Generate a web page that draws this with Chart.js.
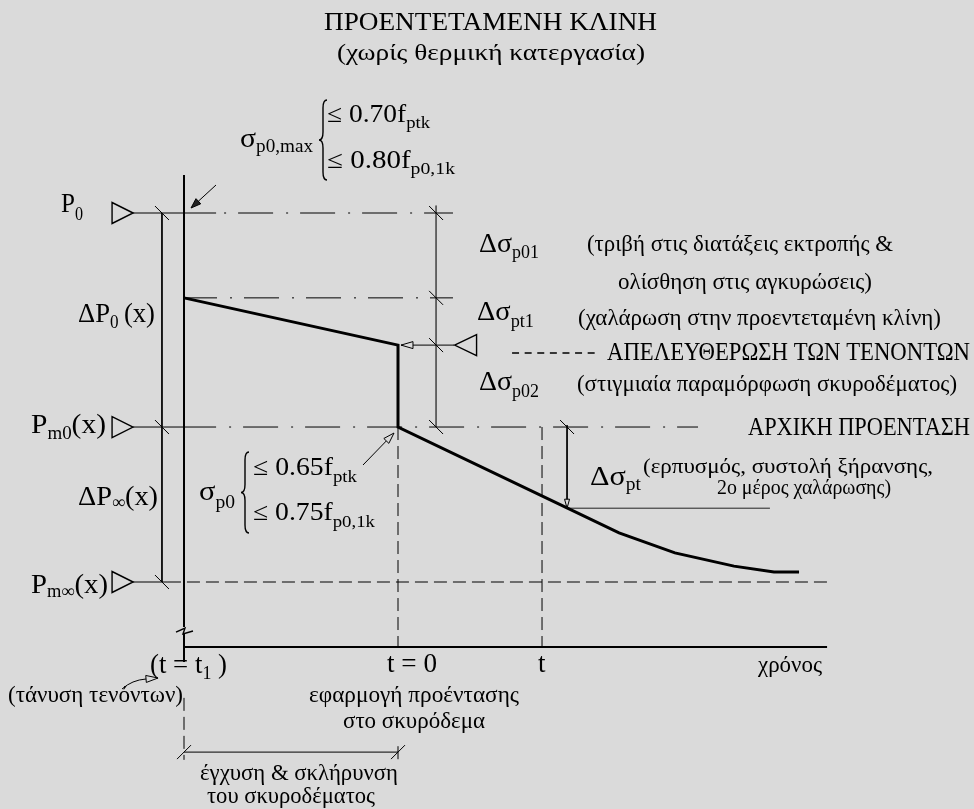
<!DOCTYPE html>
<html lang="el">
<head>
<meta charset="utf-8">
<title>Προεντεταμένη κλίνη</title>
<script src="https://cdn.jsdelivr.net/npm/chart.js@4.4.1/dist/chart.umd.min.js"></script>
<style>
  html, body { margin: 0; padding: 0; background: #dadada; }
  canvas { display: block; }
</style>
</head>
<body>
<canvas id="chart" width="974" height="809"></canvas>
<script>
// --- Δεδομένα: χρόνος (αυθαίρετες μονάδες) και τάση στον τένοντα ---
// t = t1 -> -10, t = 0 -> 0, Pm∞ -> 0, P0 -> 100
const curveTime   = [-10, 0, 0, 7.92, 10.33, 12.94, 15.7, 17.57, 18.74];
const curveStress = [77, 64.2, 42, 20, 13.3, 7.9, 4.3, 2.7, 2.7];
const timeMarks   = [-10, 0, 6.73, 20.05];       // t1, t = 0, t, τέλος άξονα
const levelValues = [100, 77, 64.2, 42, 0];      // P0, P0-Δσp01, απελευθέρωση, Pm0, Pm∞
const creepLevel  = 20;                          // Δσpt μετριέται ως εδώ

const [T1, T0, T, T_END] = timeMarks;
const [P0, P1, PR, PM0, PMI] = levelValues;

// --- Βαθμονόμηση κλιμάκων (ολόκληρος ο καμβάς είναι η περιοχή σχεδίασης) ---
const PX_PER_T = 21.4, PX_PER_S = 3.69, T0_PX = 398, S0_PX = 582;
const X_MIN = -T0_PX / PX_PER_T, X_MAX = (974 - T0_PX) / PX_PER_T;
const Y_MIN = (S0_PX - 809) / PX_PER_S, Y_MAX = S0_PX / PX_PER_S;

// θέσεις βοηθητικών γραμμών (μονάδες δεδομένων)
const X_LEAD = -12.38, X_SOLID_END = -8.5, X_DD_END = 2.57, X_PM0_END = 14.02;
const X_PMI_SOLID = -10.75, X_DIM_L = -11.03, X_DIM_R = 1.78, X_DIM_PT = 7.9;
const X_PT_END = 17.38, X_REL_TIP = 0.14, X_REL_END = 2.62;
const AXIS_TOP = 110.3, Y_AXIS = -17.6, Y_AXIS_LOW = -21.7, Y_BRK_HI = -12.2, Y_BRK_LO = -14.1;
const Y_T1_TOP = -31.4, Y_T0_LOW = -44.5, Y_BOTTOM = -48.2, Y_DIM_B = -46.1;

const BG = '#dadada';
const FONT = '"Liberation Serif", "Times New Roman", serif';
const DASH_DOT = [35, 13, 2, 12];
const DASHED = [13, 6];

function seg(xs, ys, extra) {
    return Object.assign({
        data: xs.map((x, i) => ({ x: x, y: ys[i] })),
        showLine: true, borderColor: '#000', borderWidth: 1,
        pointRadius: 0, fill: false, tension: 0
    }, extra || {});
}

const datasets = [
    seg(curveTime, curveStress, { borderWidth: 3, borderJoinStyle: 'miter' }),
    // άξονες
    seg([T1, T1], [AXIS_TOP, Y_BRK_HI], { borderWidth: 2 }),
    seg([T1, T1], [Y_BRK_LO, Y_AXIS_LOW], { borderWidth: 2 }),
    seg([T1, T_END], [Y_AXIS, Y_AXIS], { borderWidth: 2 }),
    // στάθμη P0
    seg([X_LEAD, X_SOLID_END], [P0, P0]),
    seg([X_SOLID_END, X_DD_END], [P0, P0], { borderDash: DASH_DOT, borderDashOffset: 40 }),
    // στάθμη μετά τις απώλειες Δσp01
    seg([T1, X_DD_END], [P1, P1], { borderDash: DASH_DOT, borderDashOffset: 2 }),
    // απελευθέρωση
    seg([X_REL_TIP, X_REL_END], [PR, PR]),
    seg([5.33, 9.44], [62.06, 62.06], { borderDash: [7, 5.6], borderWidth: 1.3 }),
    // Pm0
    seg([X_LEAD, X_SOLID_END], [PM0, PM0]),
    seg([X_SOLID_END, X_PM0_END], [PM0, PM0], { borderDash: DASH_DOT, borderDashOffset: 35 }),
    // Pm∞
    seg([X_LEAD, X_PMI_SOLID], [PMI, PMI]),
    seg([X_PMI_SOLID, T_END], [PMI, PMI], { borderDash: DASHED }),
    // γραμμές διαστάσεων
    seg([X_DIM_L, X_DIM_L], [P0, PMI]),
    seg([X_DIM_R, X_DIM_R], [P0 + 2, PM0], { borderColor: '#555' }),
    seg([X_DIM_PT, X_DIM_PT], [PM0 + 0.5, creepLevel]),
    seg([X_DIM_PT, X_PT_END], [creepLevel, creepLevel], { borderColor: '#222' }),
    seg([T1, T0], [Y_DIM_B, Y_DIM_B]),
    // κατακόρυφες διακεκομμένες χρόνου
    seg([T0, T0], [PM0, Y_AXIS], { borderDash: DASHED }),
    seg([T0, T0], [Y_T0_LOW, Y_BOTTOM], { borderDash: DASHED }),
    seg([T, T], [PM0, Y_AXIS], { borderDash: DASHED }),
    seg([T1, T1], [Y_T1_TOP, Y_BOTTOM], { borderDash: DASHED })
];

// --- σχεδίαση κειμένων / βελών / συμβόλων ---
function rich(ctx, x, y, parts, width) {
    let w = 0;
    parts.forEach(p => {
        ctx.font = p[1] + 'px ' + FONT;
        p.w = ctx.measureText(p[0]).width;
        w += p.w;
    });
    const k = width ? width / w : 1;
    ctx.save();
    ctx.translate(x, y);
    ctx.scale(k, 1);
    let cx = 0;
    parts.forEach(p => {
        ctx.font = p[1] + 'px ' + FONT;
        ctx.fillText(p[0], cx, p[2] || 0);
        cx += p.w;
    });
    ctx.restore();
}

function tri(ctx, tx, ty, dir, len, half) {
    ctx.beginPath();
    ctx.moveTo(tx, ty);
    ctx.lineTo(tx - dir * len, ty - half);
    ctx.lineTo(tx - dir * len, ty + half);
    ctx.closePath();
    ctx.fillStyle = BG;
    ctx.fill();
    ctx.stroke();
}

function head(ctx, x2, y2, ang, len, half, fill) {
    const bx = x2 - len * Math.cos(ang), by = y2 - len * Math.sin(ang);
    ctx.beginPath();
    ctx.moveTo(x2, y2);
    ctx.lineTo(bx + half * Math.sin(ang), by - half * Math.cos(ang));
    ctx.lineTo(bx - half * Math.sin(ang), by + half * Math.cos(ang));
    ctx.closePath();
    ctx.fillStyle = fill;
    ctx.fill();
    ctx.stroke();
}

function arrow(ctx, x1, y1, x2, y2, len, half, fill) {
    const ang = Math.atan2(y2 - y1, x2 - x1);
    ctx.beginPath();
    ctx.moveTo(x1, y1);
    ctx.lineTo(x2 - len * Math.cos(ang), y2 - len * Math.sin(ang));
    ctx.stroke();
    head(ctx, x2, y2, ang, len, half, fill);
}

function brace(ctx, x, y1, y2, w) {
    const ym = (y1 + y2) / 2, xm = x + w / 2;
    ctx.beginPath();
    ctx.moveTo(x + w, y1);
    ctx.quadraticCurveTo(xm, y1, xm, y1 + w);
    ctx.lineTo(xm, ym - w);
    ctx.quadraticCurveTo(xm, ym, x, ym);
    ctx.quadraticCurveTo(xm, ym, xm, ym + w);
    ctx.lineTo(xm, y2 - w);
    ctx.quadraticCurveTo(xm, y2, x + w, y2);
    ctx.stroke();
}

const annotations = {
    id: 'annotations',
    afterDatasetsDraw(chart) {
        const ctx = chart.ctx;
        const X = v => chart.scales.x.getPixelForValue(v);
        const Y = v => chart.scales.y.getPixelForValue(v);
        ctx.save();
        ctx.strokeStyle = '#000';
        ctx.fillStyle = '#000';
        ctx.lineWidth = 1;

        // σύμβολα διαστάσεων (πλάγιες γραμμούλες)
        const ticks = [[X_DIM_L, P0, 1], [X_DIM_L, PM0, 1], [X_DIM_L, PMI, 1],
                       [X_DIM_R, P0, 1], [X_DIM_R, P1, 1], [X_DIM_R, PR, 1], [X_DIM_R, PM0, 1],
                       [X_DIM_PT, PM0, 1], [T1, Y_DIM_B, -1], [T0, Y_DIM_B, -1]];
        ticks.forEach(t => {
            const x = X(t[0]), y = Y(t[1]);
            ctx.beginPath();
            ctx.moveTo(x - 7, y - 7 * t[2]);
            ctx.lineTo(x + 7, y + 7 * t[2]);
            ctx.stroke();
        });

        // τρίγωνα στάθμης
        ctx.lineWidth = 1.4;
        [P0, PM0, PMI].forEach(v => tri(ctx, X(X_LEAD), Y(v), 1, 21, 10.5));
        tri(ctx, X(X_REL_END) + 0.5, Y(PR), -1, 22, 10.5);

        // διακοπή άξονα
        ctx.beginPath();
        const ax = X(T1), by = Y(Y_BRK_HI);
        ctx.moveTo(ax - 8, by + 5);
        ctx.lineTo(ax + 1, by + 1);
        ctx.lineTo(ax - 1, by + 7);
        ctx.lineTo(ax + 9, by + 4);
        ctx.stroke();

        // βέλη
        ctx.lineWidth = 1;
        arrow(ctx, X(T1) + 32, Y(P0) - 28, X(T1) + 7, Y(P0) - 5, 10, 3.5, '#222');
        arrow(ctx, 363, 465, X(T0) - 4, Y(PM0) + 6, 11, 3.5, BG);
        head(ctx, X(X_REL_TIP), Y(PR), Math.PI, 12, 3.5, BG);
        head(ctx, X(X_DIM_PT), Y(creepLevel), Math.PI / 2, 9, 2.5, BG);
        ctx.beginPath();
        ctx.moveTo(122, 689);
        ctx.quadraticCurveTo(132, 680, 146, 679);
        ctx.stroke();
        head(ctx, 158, 678, -0.08, 12, 3.5, BG);

        // άγκιστρα
        ctx.lineWidth = 1.4;
        brace(ctx, 319, 100, 180, 8);
        brace(ctx, 241, 452, 533, 8);

        // κείμενα
        ctx.fillStyle = '#000';
        const M = 28, S = 18, D = 24, C = 25;
        rich(ctx, 324, 30, [['ΠΡΟΕΝΤΕΤΑΜΕΝΗ ΚΛΙΝΗ', C]], 333);
        rich(ctx, 337, 60, [['(χωρίς θερμική κατεργασία)', D]], 308);

        rich(ctx, 240, 147, [['σ', M], ['p0,max', S, 5]], 73);
        rich(ctx, 327, 122, [['≤ 0.70f', 25], ['ptk', 17, 6]], 103);
        rich(ctx, 327, 168, [['≤ 0.80f', 25], ['p0,1k', 17, 6]], 128);

        rich(ctx, 61, 212, [['P', M], ['0', S, 8]], 22);
        rich(ctx, 78, 322, [['ΔP', M], ['0', S, 6], ['\u2009(x)', M]], 77);
        rich(ctx, 31, 433, [['P', M], ['m0', S, 6], ['(x)', M]], 75);
        rich(ctx, 78, 505, [['ΔP', M], ['∞', S, 3], ['(x)', M]], 80);
        rich(ctx, 31, 593, [['P', M], ['m∞', S, 4], ['(x)', M]], 77);

        rich(ctx, 199, 500, [['σ', M], ['p0', S, 8]], 36);
        rich(ctx, 253, 475, [['≤ 0.65f', 25], ['ptk', 17, 7]], 104);
        rich(ctx, 253, 520, [['≤ 0.75f', 25], ['p0,1k', 17, 7]], 122);

        rich(ctx, 479, 252, [['Δσ', M], ['p01', S, 6]], 60);
        rich(ctx, 477, 320, [['Δσ', M], ['pt1', S, 7]], 57);
        rich(ctx, 479, 390, [['Δσ', M], ['p02', S, 7]], 60);
        rich(ctx, 590, 485, [['Δσ', M], ['pt', S, 5]], 51);

        rich(ctx, 587, 251, [['(τριβή στις διατάξεις εκτροπής &', D]], 306);
        rich(ctx, 618, 289, [['ολίσθηση στις αγκυρώσεις)', D]], 254);
        rich(ctx, 578, 325, [['(χαλάρωση στην προεντεταμένη κλίνη)', D]], 363);
        rich(ctx, 607, 360, [['ΑΠΕΛΕΥΘΕΡΩΣΗ ΤΩΝ ΤΕΝΟΝΤΩΝ', C]], 363);
        rich(ctx, 577, 391, [['(στιγμιαία παραμόρφωση σκυροδέματος)', D]], 380);
        rich(ctx, 748, 435, [['ΑΡΧΙΚΗ ΠΡΟΕΝΤΑΣΗ', C]], 222);
        rich(ctx, 643, 473, [['(ερπυσμός, συστολή ξήρανσης,', 21]], 290);
        rich(ctx, 717, 494, [['2ο μέρος χαλάρωσης)', 21]], 174);

        rich(ctx, 150, 673, [['(t = t', 27], ['1', S, 6], [' )', 27]], 77);
        rich(ctx, 387, 672, [['t = 0', 27]], 50);
        rich(ctx, X(T) - 4, 672, [['t', 27]]);
        rich(ctx, 758, 672, [['χρόνος', D]], 64);
        rich(ctx, 8, 702, [['(τάνυση τενόντων)', D]], 175);
        rich(ctx, 309, 702, [['εφαρμογή προέντασης', D]], 210);
        rich(ctx, 343, 728, [['στο σκυρόδεμα', D]], 142);
        rich(ctx, 200, 780, [['έγχυση & σκλήρυνση', D]], 198);
        rich(ctx, 207, 803, [['του σκυροδέματος', D]], 168);

        ctx.restore();
    }
};

new Chart(document.getElementById('chart'), {
    type: 'scatter',
    data: { datasets: datasets },
    options: {
        responsive: false,
        animation: false,
        events: [],
        layout: { padding: 0 },
        plugins: { legend: { display: false }, tooltip: { enabled: false } },
        scales: {
            x: { type: 'linear', min: X_MIN, max: X_MAX, display: false },
            y: { type: 'linear', min: Y_MIN, max: Y_MAX, display: false }
        }
    },
    plugins: [annotations]
});
</script>
</body>
</html>
